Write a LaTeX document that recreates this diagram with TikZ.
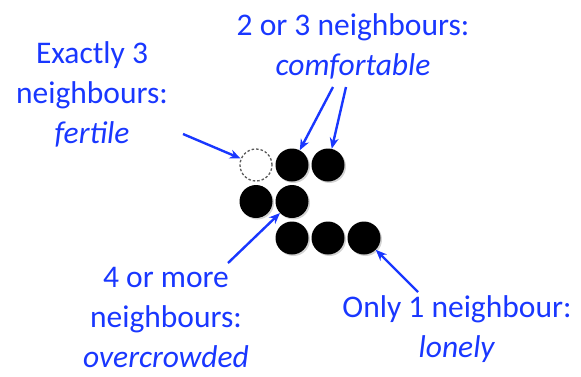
\documentclass[tikz,border=0pt]{standalone}
\usepackage{fontspec}
\setmainfont{Carlito}
\usetikzlibrary{arrows.meta,shadows}

\definecolor{labelblue}{RGB}{25,55,255}

\begin{document}
\begin{tikzpicture}[x=1pt,y=-1pt,
	cell/.style={circle,fill=black,minimum size=33pt,inner sep=0pt,
		drop shadow={shadow xshift=1.5pt,shadow yshift=-1.5pt,opacity=0.35}},
	empty/.style={circle,draw=black!65,dash pattern=on 2.5pt off 2pt,line width=1.3pt,minimum size=32pt,inner sep=0pt},
	label/.style={text=labelblue,align=center,inner sep=0pt,anchor=base,
		font={\fontsize{31.5}{40}\selectfont}},
	pointer/.style={draw=labelblue,line width=2.4pt,-{Stealth[length=11pt,width=9pt]}}]
	
	\useasboundingbox (0,0) rectangle (581,376);
	
	% the cells
	\node[empty] (dead) at (256,165) {};
	\node[cell] (b1) at (292,165) {};
	\node[cell] (c1) at (328,165) {};
	\node[cell] (a2) at (256,201.5) {};
	\node[cell] (b2) at (292,201.5) {};
	\node[cell] (b3) at (292,238) {};
	\node[cell] (c3) at (328,238) {};
	\node[cell] (d3) at (364,238) {};
	
	% the labels (anchored at the last line's baseline)
	\node[label] (fertile) at (92,143) {Exactly 3\\neighbours:\\\textit{fertile}};
	\node[label] (comfy) at (353,75) {2 or 3 neighbours:\\\textit{comfortable}};
	\node[label] (crowd) at (166,367) {4 or more\\neighbours:\\\textit{overcrowded}};
	\node[label] (lonely) at (457,357) {Only 1 neighbour:\\\textit{lonely}};
	
	\coordinate (fertile-out) at (183,134);
	\coordinate (comfy-outa) at (333,87);
	\coordinate (comfy-outb) at (346,87);
	\coordinate (crowd-out) at (228,263);
	\coordinate (lonely-out) at (418,292);
	
	\draw[pointer] (fertile-out) -- (dead);
	\draw[pointer] (comfy-outa) -- (b1);
	\draw[pointer] (comfy-outb) -- (c1);
	\draw[pointer] (crowd-out) -- (b2);
	\draw[pointer] (lonely-out) -- (d3);
	
\end{tikzpicture}
\end{document}
